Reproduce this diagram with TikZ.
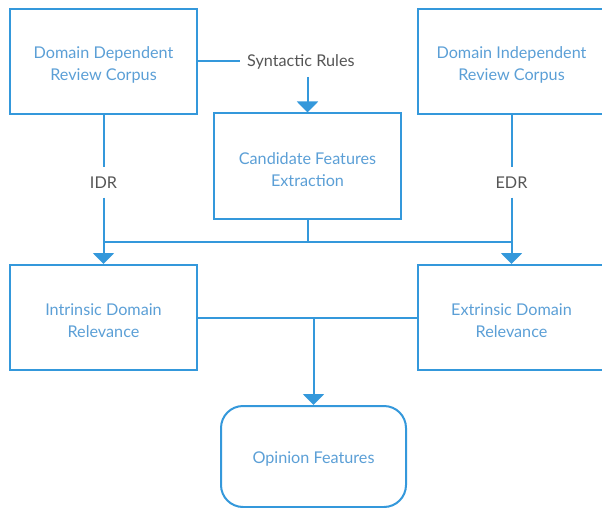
\documentclass[tikz,border=0pt]{standalone}
\usepackage{fontspec}
\setmainfont{Lato}
\usetikzlibrary{arrows.meta}
\definecolor{edge}{HTML}{3498DB}
\definecolor{boxtext}{HTML}{5B9FD6}
\definecolor{labtext}{HTML}{555555}
\newcommand\downstrut[1]{\rule{0pt}{#1}}
\begin{document}
\begin{tikzpicture}[x=1pt,y=-1pt,
  box/.style={draw=edge,line width=2pt,minimum width=187pt,minimum height=105pt,inner sep=0pt,
    align=center,text=boxtext,font=\fontsize{16.2}{22}\selectfont},
  lab/.style={text=labtext,font=\fontsize{16.2}{22}\selectfont,inner sep=0pt,minimum height=30pt},
  conn/.style={draw=edge,line width=2pt},
  arr/.style={conn,-{Triangle[width=21pt,length=11pt]}}]
\clip (0,0) rectangle (602,508);
\useasboundingbox (0,0) rectangle (602,508);
\node[box] (b1) at (103.5,61.5) {\downstrut{19pt}Domain Dependent\\Review Corpus};
\node[box] (b2) at (307.5,166) {\downstrut{19pt}Candidate Features\\Extraction};
\node[box] (b3) at (511.5,61.5) {\downstrut{19pt}Domain Independent\\Review Corpus};
\node[box] (b4) at (103.5,317.5) {\downstrut{19pt}Intrinsic Domain\\Relevance};
\node[box] (b5) at (511.5,317.5) {\downstrut{19pt}Extrinsic Domain\\Relevance};
\node[box,rounded corners=22pt,minimum width=185pt,minimum height=101pt] (b6) at (313.5,456.5) {\downstrut{17pt}Opinion Features};
\node[lab,anchor=west] (syn) at (247,62) {Syntactic Rules};
\node[lab] (idr) at (103.5,182.5) {IDR};
\node[lab] (edr) at (511.5,182.5) {EDR};
\coordinate (sa) at (307.5,77);
\coordinate (j1) at (307.5,242);
\draw[conn] (b1.east) -- ([xshift=-7pt]syn.west |- b1.east);
\draw[arr] (sa) -- (b2.north);
\draw[conn] (b1.south) -- (idr.north);
\draw[arr] (idr.south) -- (b4.north);
\draw[conn] (b3.south) -- (edr.north);
\draw[arr] (edr.south) -- (b5.north);
\draw[conn] (b2.south) -- (j1);
\draw[conn] (j1 -| b4.north) -- (j1 -| b5.north);
\draw[conn] (b4.east) -- (b5.west);
\draw[arr] (b4.east -| b6.north) -- (b6.north);
\end{tikzpicture}
\end{document}
